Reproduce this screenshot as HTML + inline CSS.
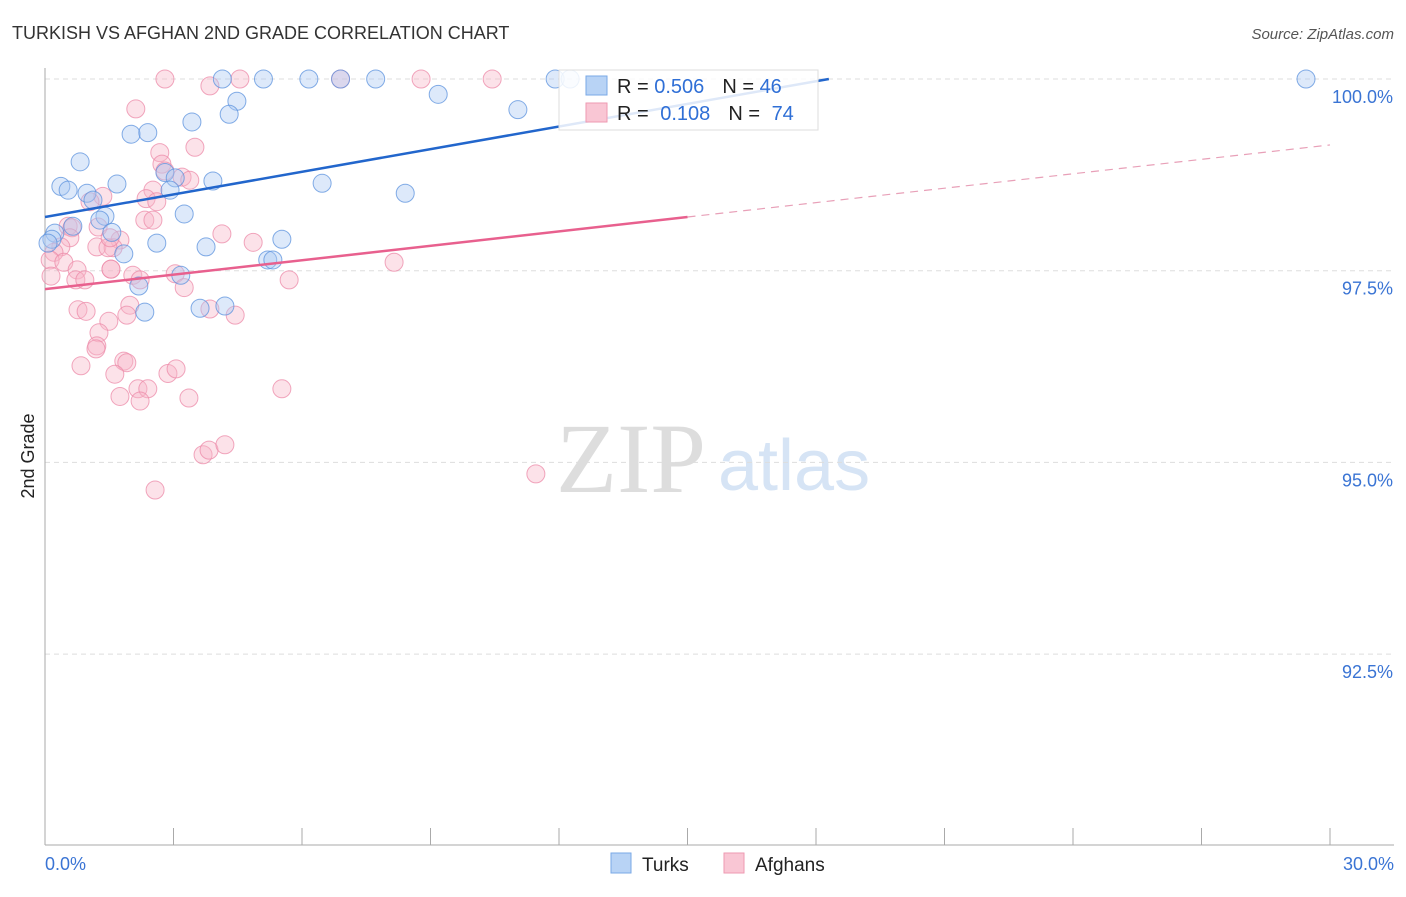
<!DOCTYPE html>
<html><head><meta charset="utf-8"><style>
body{margin:0;background:#fff;font-family:"Liberation Sans",sans-serif}
svg text{font-family:"Liberation Sans",sans-serif}
</style></head><body>
<svg width="1406" height="892">
<text x="12" y="39" font-size="18" fill="#333">TURKISH VS AFGHAN 2ND GRADE CORRELATION CHART</text>
<text x="1394" y="39" font-size="15" fill="#555" font-style="italic" text-anchor="end">Source: ZipAtlas.com</text>
<text x="556" y="492" font-size="100" fill="#ddd" style="font-family:'Liberation Serif',serif">ZIP</text>
<text x="718" y="490" font-size="72" fill="#d6e4f5">atlas</text>
<g id="grid"></g>
<g id="axes"></g>
<g id="marks"></g>
<g>
<rect x="559" y="70" width="259" height="60" fill="#fff" fill-opacity="0.85" stroke="#ddd"/>
<rect x="586" y="76" width="21" height="19" fill="#b8d3f5" stroke="#7aa8e6"/>
<rect x="586" y="103" width="21" height="19" fill="#f9c6d4" stroke="#ee9ab2"/>
<text x="617" y="93" font-size="20" fill="#222">R = <tspan fill="#2f6fd6">0.506</tspan><tspan dx="18">N = </tspan><tspan fill="#2f6fd6">46</tspan></text>
<text x="617" y="120" font-size="20" fill="#222">R = <tspan fill="#2f6fd6" dx="6">0.108</tspan><tspan dx="18">N = </tspan><tspan fill="#2f6fd6" dx="6">74</tspan></text>
</g>
<g>
<rect x="611" y="853" width="20" height="20" fill="#b8d3f5" stroke="#7aa8e6"/>
<text x="642" y="871" font-size="19" fill="#222">Turks</text>
<rect x="724" y="853" width="20" height="20" fill="#f9c6d4" stroke="#ee9ab2"/>
<text x="755" y="871" font-size="19" fill="#222">Afghans</text>
</g>
<text x="34" y="456" font-size="18" fill="#222" transform="rotate(-90 34 456)" text-anchor="middle">2nd Grade</text>
</svg>
<script>
const yTicks=[100,97.5,95,92.5];
const yTickLabels=["100.0%","97.5%","95.0%","92.5%"];
const xTickLabels=["0.0%","30.0%"];
const turksX=[4.14,5.1,6.16,6.9,7.72,11.91,12.26,29.44,9.18,11.04,4.48,4.3,3.43,2.01,2.4,0.82,0.37,0.54,0.98,1.68,2.8,3.04,2.92,3.92,6.47,8.41,1.12,1.4,1.28,3.25,0.23,0.65,1.56,2.61,3.76,5.53,1.84,5.2,3.17,2.19,5.32,2.33,3.62,4.2,0.16,0.07];
const turksY=[100,100,100,100,100,100,100,100,99.80,99.60,99.71,99.54,99.44,99.28,99.30,98.92,98.60,98.55,98.51,98.63,98.78,98.71,98.55,98.67,98.64,98.51,98.42,98.21,98.16,98.24,97.99,98.08,98.00,97.86,97.81,97.91,97.72,97.64,97.44,97.30,97.64,96.96,97.01,97.04,97.91,97.86];
const afghX=[2.8,4.55,8.78,10.44,6.9,3.85,2.12,2.68,3.5,2.73,3.2,3.38,2.52,2.36,2.61,1.35,1.05,1.24,0.54,0.63,0.58,1.75,0.37,1.21,1.54,2.33,2.52,4.13,4.86,8.15,5.7,3.04,3.25,2.05,0.21,0.12,0.44,0.75,0.72,0.14,0.93,1.54,1.98,1.91,1.49,0.77,0.96,1.26,1.21,1.19,1.84,1.91,0.84,1.63,2.87,3.06,1.75,2.17,2.4,2.22,3.36,4.44,3.85,5.53,3.69,3.83,4.2,2.57,11.46,1.59,1.47,2.22,2.8,1.52];
const afghY=[100,100,100,100,100,99.91,99.61,99.04,99.11,98.89,98.72,98.68,98.55,98.44,98.40,98.47,98.40,98.07,98.08,98.06,97.93,97.90,97.81,97.81,97.52,98.16,98.16,97.98,97.87,97.61,97.38,97.46,97.28,97.44,97.74,97.64,97.61,97.51,97.38,97.43,97.38,97.52,97.05,96.92,96.84,96.99,96.97,96.69,96.52,96.48,96.32,96.30,96.26,96.15,96.16,96.22,95.86,95.96,95.96,95.80,95.84,96.92,97.00,95.96,95.10,95.16,95.23,94.64,94.85,97.80,97.80,97.38,98.80,97.93];
const X0=45,X1=1330,XMAX=30;
function sx(v){return X0+(v/XMAX)*(X1-X0);}
function sy(v){return 79+(100-v)/2.5*191.7;}
const NS="http://www.w3.org/2000/svg";
function mk(p,t,a){const e=document.createElementNS(NS,t);for(const k in a)e.setAttribute(k,a[k]);p.appendChild(e);return e;}
const grid=document.getElementById('grid'),axes=document.getElementById('axes'),marks=document.getElementById('marks');
yTicks.forEach((t,i)=>{
 const l=mk(grid,'line',{x1:45,x2:1394,y1:sy(t),y2:sy(t),stroke:'#ddd','stroke-dasharray':'5,4'});
 
 
 const tx=mk(axes,'text',{x:1393,y:sy(t)+24,'font-size':18,fill:'#3a74d4','text-anchor':'end'});
 tx.textContent=yTickLabels[i];
 
 
});
const ax=mk(axes,'line',{x1:45,x2:45,y1:68,y2:845,stroke:'#aaa'});


const bx=mk(axes,'line',{x1:45,x2:1394,y1:845,y2:845,stroke:'#aaa'});


for(let i=0;i<=10;i++){const t=mk(axes,'line',{x1:sx(i*3),x2:sx(i*3),y1:828,y2:845,stroke:'#aaa'});
 
 }
[[0,'start',45],[30,'end',1394]].forEach((d,i)=>{const t=mk(axes,'text',{x:d[2],y:870,'font-size':18,fill:'#3a74d4','text-anchor':d[1]});t.textContent=xTickLabels[i];
 
 });
function dots(xs,ys,fill,stroke,name){xs.forEach((x,i)=>{const c=mk(marks,'circle',{cx:sx(x),cy:sy(ys[i]),r:9,fill:fill,'fill-opacity':0.4,stroke:stroke,'stroke-opacity':0.75,'stroke-width':1});
 
 });}
dots(afghX,afghY,'#f7b6c8','#ec8aa8','afghan-point');
dots(turksX,turksY,'#a9c9f2','#5b91de','turk-point');
const tb=mk(marks,'line',{x1:sx(0),y1:sy(98.2),x2:sx(18.3),y2:sy(100),stroke:'#2266cc','stroke-width':2.5});


const tp=mk(marks,'line',{x1:sx(0),y1:sy(97.26),x2:sx(15),y2:sy(98.2),stroke:'#e8608e','stroke-width':2.5});


const td=mk(marks,'line',{x1:sx(15),y1:sy(98.2),x2:sx(30),y2:sy(99.14),stroke:'#e8a0b8','stroke-width':1.2,'stroke-dasharray':'8,6'});


</script>
</body></html>
